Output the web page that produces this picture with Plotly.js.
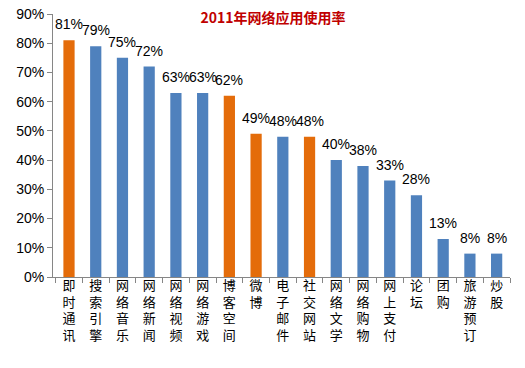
<!DOCTYPE html>
<html>
<head>
<meta charset="utf-8">
<script src="https://cdn.plot.ly/plotly-3.0.1.min.js"></script>
<style>html,body{margin:0;padding:0;background:#fff;}#chart{width:525px;height:368px;}</style>
</head>
<body>
<div id="chart"></div>
<script>
const categories = ["即时通讯","搜索引擎","网络音乐","网络新闻","网络视频","网络游戏","博客空间","微博","电子邮件","社交网站","网络文学","网络购物","网上支付","论坛","团购","旅游预订","炒股"];
const values = [81, 79, 75, 72, 63, 63, 62, 49, 48, 48, 40, 38, 33, 28, 13, 8, 8];
const highlighted = ["即时通讯","博客空间","微博","社交网站"];
const yTicks = [0,10,20,30,40,50,60,70,80,90];

const blue = "#4F81BD", orange = "#E46C0A";
const colors = categories.map(c => highlighted.includes(c) ? orange : blue);
const tickText = categories.map(c => c.split("").join("<br>"));

const trace = {
  type: "bar",
  x: categories,
  y: values,
  marker: {color: colors},
  hoverinfo: "none"
};

const annotations = categories.map((c, i) => ({
  x: c, y: values[i], xref: "x", yref: "y",
  text: values[i] + "%", showarrow: false,
  yanchor: "bottom", yshift: 6,
  font: {family: "Liberation Sans, Arial, sans-serif", size: 14, color: "#000"}
}));

const layout = {
  width: 525, height: 368,
  margin: {l: 53, r: 15, t: 14, b: 91},
  paper_bgcolor: "#fff", plot_bgcolor: "#fff",
  bargap: 0.58,
  showlegend: false,
  title: {
    text: "<b>2011年网络应用使用率</b>",
    font: {family: "Noto Sans CJK SC, sans-serif", size: 14, color: "#C00000"},
    x: 0.52, xanchor: "center", y: 0.95, yanchor: "middle"
  },
  xaxis: {
    type: "category",
    tickvals: categories, ticktext: tickText,
    tickson: "boundaries",
    ticks: "outside", ticklen: 5, tickcolor: "#868686",
    ticklabelstandoff: -4,
    showline: true, linecolor: "#868686", linewidth: 1,
    showgrid: false, zeroline: false,
    tickfont: {family: "Noto Sans CJK SC, sans-serif", size: 13, color: "#000"}
  },
  yaxis: {
    range: [0, 90],
    tickvals: yTicks, ticktext: yTicks.map(v => v + "%"),
    ticks: "outside", ticklen: 5, tickcolor: "#868686",
    showline: true, linecolor: "#868686", linewidth: 1,
    showgrid: false, zeroline: false,
    tickfont: {family: "Liberation Sans, Arial, sans-serif", size: 14, color: "#000"}
  },
  annotations: annotations
};

Plotly.newPlot("chart", [trace], layout, {displayModeBar: false, staticPlot: true});
</script>
</body>
</html>
